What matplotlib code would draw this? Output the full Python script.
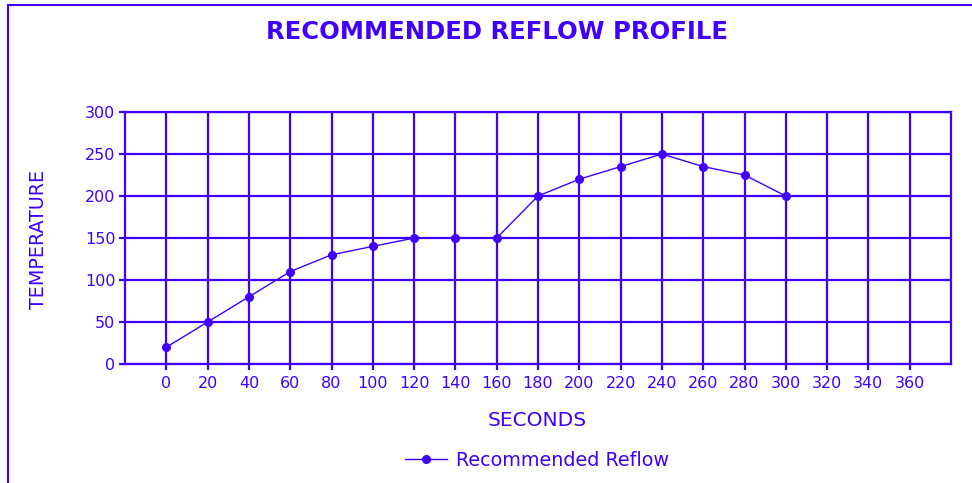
import numpy as np
from matplotlib import pyplot as plt
from matplotlib.lines import Line2D

seconds = [0, 20, 40, 60, 80, 100, 120, 140, 160, 180, 200, 220, 240, 260, 280, 300]
temperature = [20, 50, 80, 110, 130, 140, 150, 150, 150, 200, 220, 235, 250, 235, 225, 200]
x_ticks = list(range(0, 361, 20))
y_ticks = [0, 50, 100, 150, 200, 250, 300]

BLUE = "#4000ff"

def main():
    plt.rcParams["font.family"] = ["DejaVu Sans"]
    fig = plt.figure(figsize=(9.72, 4.83), dpi=100)
    ax = fig.add_axes([125/972, 1-364/483, (951-125)/972, (364-112)/483])

    ax.plot(seconds, temperature, color=BLUE, lw=1.0, marker="o", ms=5.5, label="Recommended Reflow")
    ax.set_xlim(-20, 380)
    ax.set_ylim(0, 300)
    ax.set_xticks(x_ticks)
    ax.set_yticks(y_ticks)
    ax.grid(True, color=BLUE, lw=1.6)
    ax.set_axisbelow(True)
    for s in ax.spines.values():
        s.set_color(BLUE)
        s.set_linewidth(1.6)
    ax.tick_params(colors=BLUE, labelcolor=BLUE, labelsize=11.5, length=4, width=1.6)
    ax.tick_params(axis="x", pad=5)
    ax.tick_params(axis="y", pad=3)

    fig.text(497/972, 1-32/483, "RECOMMENDED REFLOW PROFILE", color=BLUE, fontsize=17.5,
             weight="bold", ha="center", va="center")
    fig.text(38/972, 1-239/483, "TEMPERATURE", color=BLUE, fontsize=13.8,
             rotation=90, ha="center", va="center")
    fig.text(537/972, 1-420/483, "SECONDS", color=BLUE, fontsize=14.5, ha="center", va="center")

    handle = Line2D([], [], color=BLUE, lw=1.0, marker="o", ms=5.5)
    fig.legend([handle], ["Recommended Reflow"], loc="center", bbox_to_anchor=(537/972, 1-460/483),
               frameon=False, fontsize=13.8, labelcolor=BLUE, handlelength=2.2, handletextpad=0.5)

    # outer frame (left and top edges visible)
    fig.add_artist(Line2D([8/972, 8/972], [0, 1-5/483], color=BLUE, lw=1.5, transform=fig.transFigure))
    fig.add_artist(Line2D([8/972, 1], [1-5/483, 1-5/483], color=BLUE, lw=1.5, transform=fig.transFigure))

    fig.savefig("out.png", dpi=100)

if __name__ == "__main__":
    main()
